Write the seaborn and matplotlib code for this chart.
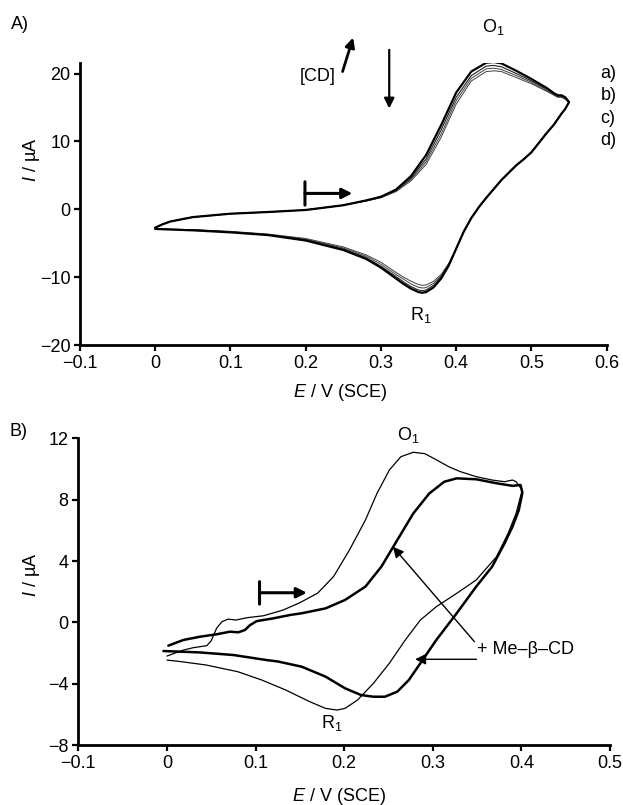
import matplotlib
matplotlib.use("Agg")
import matplotlib.pyplot as plt
import seaborn as sns
import pandas as pd

# ---------------- data: panel A (four CVs, [CD] increasing a -> d) ----------------
top_fwd_E = [0.0, 0.01, 0.02, 0.05, 0.10, 0.15, 0.20, 0.25, 0.28, 0.30, 0.32, 0.34, 0.36,
             0.38, 0.40, 0.42, 0.44, 0.45, 0.46, 0.48, 0.50, 0.52, 0.53, 0.535, 0.54, 0.545, 0.55]
a_fwd = [-2.7, -2.2, -1.8, -1.15, -0.65, -0.4, -0.1, 0.6, 1.3, 1.85, 2.9, 4.9, 8.0,
         12.4, 17.2, 20.3, 21.6, 21.7, 21.5, 20.4, 19.2, 17.9, 17.1, 16.8, 16.8, 16.5, 15.8]
b_fwd = [-2.7, -2.2, -1.8, -1.15, -0.65, -0.4, -0.1, 0.6, 1.3, 1.8, 2.8, 4.6, 7.4,
         11.7, 16.5, 19.7, 21.1, 21.2, 21.0, 20.0, 18.9, 17.7, 17.0, 16.7, 16.7, 16.4, 15.8]
c_fwd = [-2.7, -2.2, -1.8, -1.15, -0.65, -0.4, -0.1, 0.6, 1.25, 1.75, 2.7, 4.4, 7.0,
         11.1, 16.0, 19.3, 20.7, 20.8, 20.6, 19.7, 18.7, 17.5, 16.9, 16.6, 16.6, 16.3, 15.8]
d_fwd = [-2.7, -2.2, -1.8, -1.15, -0.65, -0.4, -0.1, 0.6, 1.2, 1.7, 2.6, 4.2, 6.6,
         10.6, 15.5, 18.9, 20.3, 20.4, 20.3, 19.4, 18.5, 17.4, 16.8, 16.5, 16.5, 16.2, 15.8]

top_rev_E = [0.55, 0.545, 0.54, 0.53, 0.52, 0.51, 0.50, 0.49, 0.48, 0.47, 0.46, 0.45, 0.44,
             0.43, 0.42, 0.41, 0.40, 0.39, 0.38, 0.37, 0.36, 0.355, 0.35, 0.34, 0.33, 0.32,
             0.30, 0.28, 0.25, 0.20, 0.15, 0.10, 0.05, 0.0]
a_rev = [15.8, 14.8, 14.1, 12.5, 11.2, 9.8, 8.4, 7.4, 6.5, 5.4, 4.3, 3.0, 1.7,
         0.3, -1.3, -3.3, -5.8, -8.3, -10.2, -11.5, -12.2, -12.3, -12.2, -11.7, -11.0, -10.2,
         -8.6, -7.3, -6.0, -4.6, -3.8, -3.4, -3.1, -2.9]
b_rev = [15.8, 14.8, 14.1, 12.5, 11.2, 9.8, 8.4, 7.4, 6.5, 5.4, 4.3, 3.0, 1.7,
         0.3, -1.3, -3.3, -5.8, -8.2, -10.0, -11.2, -11.9, -12.0, -11.9, -11.4, -10.7, -9.9,
         -8.4, -7.1, -5.85, -4.5, -3.75, -3.35, -3.05, -2.9]
c_rev = [15.8, 14.8, 14.1, 12.5, 11.2, 9.8, 8.4, 7.4, 6.5, 5.4, 4.3, 3.0, 1.7,
         0.3, -1.3, -3.3, -5.8, -8.1, -9.8, -10.9, -11.55, -11.6, -11.5, -11.0, -10.3, -9.6,
         -8.1, -6.9, -5.7, -4.4, -3.7, -3.3, -3.0, -2.9]
d_rev = [15.8, 14.8, 14.1, 12.5, 11.2, 9.8, 8.4, 7.4, 6.5, 5.4, 4.3, 3.0, 1.7,
         0.3, -1.3, -3.3, -5.8, -8.0, -9.6, -10.6, -11.15, -11.2, -11.1, -10.6, -10.0, -9.3,
         -7.8, -6.7, -5.55, -4.3, -3.65, -3.25, -3.0, -2.9]

top_curve_labels = ["a)", "b)", "c)", "d)"]
top_xticks = [-0.1, 0.0, 0.1, 0.2, 0.3, 0.4, 0.5, 0.6]
top_xticklabels = ["\u22120.1", "0", "0.1", "0.2", "0.3", "0.4", "0.5", "0.6"]
top_yticks = [-20, -10, 0, 10, 20]
top_yticklabels = ["\u221220", "\u221210", "0", "10", "20"]

# ---------------- data: panel B (without / with Me-beta-CD) ----------------
free_fwd_E = [0.0, 0.005, 0.0185, 0.03, 0.045, 0.05, 0.056, 0.062, 0.069, 0.078, 0.09, 0.109,
              0.131, 0.15, 0.17, 0.188, 0.206, 0.224, 0.237, 0.251, 0.264, 0.278, 0.291,
              0.304, 0.318, 0.331, 0.349, 0.367, 0.381, 0.39, 0.394, 0.401]
free_fwd_I = [-2.2, -2.09, -1.81, -1.65, -1.52, -1.2, -0.39, 0.04, 0.21, 0.15, 0.3, 0.43,
              0.8, 1.28, 1.9, 2.98, 4.72, 6.67, 8.4, 9.93, 10.8, 11.09, 11.0,
              10.6, 10.15, 9.83, 9.5, 9.28, 9.17, 9.28, 9.17, 8.63]
free_rev_E = [0.401, 0.399, 0.394, 0.385, 0.372, 0.349, 0.327, 0.304, 0.286, 0.269, 0.251,
              0.233, 0.215, 0.201, 0.192, 0.179, 0.161, 0.134, 0.107, 0.08, 0.044, 0.017, 0.0]
free_rev_I = [8.63, 8.2, 7.1, 5.8, 4.28, 2.76, 1.89, 1.02, 0.15, -1.15, -2.67,
              -3.98, -5.07, -5.61, -5.72, -5.61, -5.17, -4.41, -3.76, -3.22, -2.78, -2.57, -2.46]

cd_fwd_E = [0.0016, 0.0185, 0.037, 0.056, 0.071, 0.0806, 0.088, 0.0938, 0.1013, 0.12, 0.139,
            0.152, 0.179, 0.201, 0.224, 0.242, 0.26, 0.278, 0.296, 0.313, 0.327, 0.349,
            0.372, 0.39, 0.399, 0.401]
cd_fwd_I = [-1.52, -1.15, -0.94, -0.78, -0.61, -0.65, -0.5, -0.18, 0.08, 0.26, 0.48,
            0.59, 0.91, 1.46, 2.33, 3.63, 5.37, 7.1, 8.4, 9.17, 9.39, 9.33,
            9.07, 8.9, 8.96, 8.5]
cd_rev_E = [0.401, 0.397, 0.39, 0.381, 0.367, 0.349, 0.327, 0.304, 0.286, 0.273, 0.26,
            0.246, 0.233, 0.219, 0.201, 0.179, 0.152, 0.125, 0.1126, 0.075, 0.037, -0.004]
cd_rev_I = [8.4, 7.3, 6.24, 5.15, 3.63, 2.33, 0.59, -1.15, -2.67, -3.76, -4.52,
            -4.85, -4.85, -4.74, -4.3, -3.54, -2.89, -2.55, -2.46, -2.13, -1.96, -1.87]

bot_xticks = [-0.1, 0.0, 0.1, 0.2, 0.3, 0.4, 0.5]
bot_xticklabels = ["\u22120.1", "0", "0.1", "0.2", "0.3", "0.4", "0.5"]
bot_yticks = [-8, -4, 0, 4, 8, 12]
bot_yticklabels = ["\u22128", "\u22124", "0", "4", "8", "12"]

# ---------------- style ----------------
sns.set_style("ticks")
plt.rcParams["font.family"] = ["Liberation Sans", "DejaVu Sans"]
plt.rcParams["mathtext.fontset"] = "custom"
plt.rcParams["mathtext.rm"] = "Liberation Sans"
plt.rcParams["mathtext.it"] = "Liberation Sans:italic"
plt.rcParams["mathtext.default"] = "regular"
for key in ("text.color", "axes.labelcolor", "xtick.color", "ytick.color", "axes.edgecolor"):
    plt.rcParams[key] = "black"
FS = 13

fig = plt.figure(figsize=(6.23, 8.05), dpi=100)
axA = fig.add_axes([0.1284, 0.5714, 0.8454, 0.3507])
axB = fig.add_axes([0.1257, 0.0745, 0.8534, 0.381])


def draw_cv(ax, E_f, I_f, E_r, I_r, lw, color):
    df = pd.DataFrame({"E": list(E_f) + list(E_r), "I": list(I_f) + list(I_r)})
    sns.lineplot(data=df, x="E", y="I", sort=False, estimator=None, ax=ax,
                 color=color, lw=lw, solid_joinstyle="round")


# panel A curves (inner ones thin, outer a) thick)
draw_cv(axA, top_fwd_E, d_fwd, top_rev_E, d_rev, 0.7, "#404040")
draw_cv(axA, top_fwd_E, c_fwd, top_rev_E, c_rev, 0.7, "#404040")
draw_cv(axA, top_fwd_E, b_fwd, top_rev_E, b_rev, 0.8, "#202020")
draw_cv(axA, top_fwd_E, a_fwd, top_rev_E, a_rev, 1.6, "black")

# panel B curves
draw_cv(axB, free_fwd_E, free_fwd_I, free_rev_E, free_rev_I, 0.9, "black")
draw_cv(axB, cd_fwd_E, cd_fwd_I, cd_rev_E, cd_rev_I, 1.8, "black")


def style_axis(ax, xlim, ylim, xt, xtl, yt, ytl):
    ax.set_xlim(*xlim)
    ax.set_ylim(*ylim)
    ax.set_xticks(xt)
    ax.set_xticklabels(xtl)
    ax.set_yticks(yt)
    ax.set_yticklabels(ytl)
    ax.set_xlabel("")
    ax.set_ylabel("")
    sns.despine(ax=ax)
    for s in ("left", "bottom"):
        ax.spines[s].set_linewidth(2.0)
        ax.spines[s].set_color("black")
    ax.tick_params(direction="out", length=4, width=1.6, labelsize=FS, pad=3,
                   colors="black")


style_axis(axA, (-0.1, 0.6), (-20, 21.6), top_xticks, top_xticklabels, top_yticks, top_yticklabels)
style_axis(axB, (-0.1, 0.5), (-8, 12), bot_xticks, bot_xticklabels, bot_yticks, bot_yticklabels)
axA.spines["bottom"].set_bounds(-0.1, 0.6)
axB.spines["left"].set_bounds(-8, 12)

# axis labels
ylab = r"$\mathit{I}$ / \u00b5A".replace("\\u00b5", "\u00b5")
xlab = r"$\mathit{E}$ / V (SCE)"
fig.text(0.050, 0.801, ylab, rotation=90, ha="center", va="center", fontsize=FS)
fig.text(0.546, 0.512, xlab, ha="center", va="center", fontsize=FS)
fig.text(0.050, 0.286, ylab, rotation=90, ha="center", va="center", fontsize=FS)
fig.text(0.544, 0.011, xlab, ha="center", va="center", fontsize=FS)

# panel letters
fig.text(0.018, 0.969, "A)", ha="left", va="center", fontsize=FS)
fig.text(0.015, 0.4637, "B)", ha="left", va="center", fontsize=FS)

# ---- panel A annotations ----
axA.text(0.434, 26.1, "O$_1$", ha="left", va="baseline", fontsize=FS, clip_on=False)
axA.text(0.338, -16.3, "R$_1$", ha="left", va="baseline", fontsize=FS)
axA.text(0.192, 19.6, "[CD]", ha="left", va="center", fontsize=FS)
axA.annotate("", xy=(0.263, 25.3), xytext=(0.249, 20.3), annotation_clip=False,
             arrowprops=dict(arrowstyle="-|>", color="black", lw=2.0, mutation_scale=14,
                             shrinkA=0, shrinkB=0))
axA.annotate("", xy=(0.311, 14.85), xytext=(0.311, 23.5), annotation_clip=False,
             arrowprops=dict(arrowstyle="-|>", color="black", lw=1.6, mutation_scale=15,
                             shrinkA=0, shrinkB=0))
axA.annotate("", xy=(0.199, 4.05), xytext=(0.199, 0.62),
             arrowprops=dict(arrowstyle="-", color="black", lw=2.2, shrinkA=0, shrinkB=0))
axA.annotate("", xy=(0.262, 2.34), xytext=(0.199, 2.34),
             arrowprops=dict(arrowstyle="-|>", color="black", lw=2.2, mutation_scale=15,
                             shrinkA=0, shrinkB=0))
for lab, yv in zip(top_curve_labels, [20.0, 16.7, 13.45, 10.2]):
    axA.text(0.592, yv, lab, ha="left", va="center", fontsize=FS, clip_on=False)

# ---- panel B annotations ----
axB.text(0.2596, 11.89, "O$_1$", ha="left", va="baseline", fontsize=FS, clip_on=False)
axB.text(0.174, -6.91, "R$_1$", ha="left", va="baseline", fontsize=FS)
axB.text(0.3494, -1.8, "+ Me\u2013\u03b2\u2013CD", ha="left", va="center", fontsize=FS)
axB.annotate("", xy=(0.255, 4.93), xytext=(0.347, -1.26),
             arrowprops=dict(arrowstyle="-|>", color="black", lw=1.0, mutation_scale=16,
                             shrinkA=0, shrinkB=0))
axB.annotate("", xy=(0.28, -2.41), xytext=(0.3494, -2.41),
             arrowprops=dict(arrowstyle="-|>", color="black", lw=1.0, mutation_scale=16,
                             shrinkA=0, shrinkB=0))
axB.annotate("", xy=(0.1045, 2.65), xytext=(0.1045, 1.19),
             arrowprops=dict(arrowstyle="-", color="black", lw=2.2, shrinkA=0, shrinkB=0))
axB.annotate("", xy=(0.158, 1.93), xytext=(0.1045, 1.93),
             arrowprops=dict(arrowstyle="-|>", color="black", lw=2.2, mutation_scale=15,
                             shrinkA=0, shrinkB=0))

fig.savefig("out.png", dpi=100)
